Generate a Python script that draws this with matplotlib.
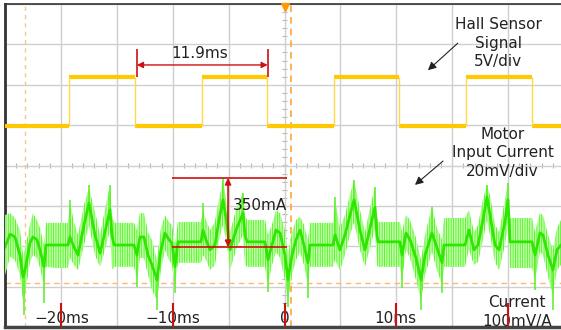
import numpy as np
import matplotlib
matplotlib.use("Agg")
import matplotlib.pyplot as plt

plt.rcParams['font.family'] = ['DejaVu Sans']
plt.rcParams['hatch.linewidth'] = 0.6

# screen units: x in ms (5 ms/div), y in divisions (-4..4)
# Hall sensor signal: edge times (ms) and levels (div)
hall_edges = [-19.28, -13.37, -7.38, -1.57, 4.43, 10.24, 16.23, 22.14]
hall_low = 0.98
hall_high = 2.19

# Motor input current trace (div)
cur_t = [-25.0, -24.55, -24.11, -23.66, -23.39, -23.21, -22.77, -22.50, -22.14, -21.87,
         -21.51, -21.33, -20.44, -19.37, -19.19, -18.83, -18.47, -17.93, -17.49, -16.95,
         -16.50, -16.06, -15.61, -15.43, -15.25, -14.36, -13.46, -13.20, -12.93, -12.57,
         -12.21, -11.86, -11.41, -11.05, -10.69, -10.33, -10.06, -9.80, -9.53, -8.45,
         -7.47, -7.29, -7.02, -6.66, -6.22, -5.86, -5.50, -5.14, -4.87, -4.34,
         -3.71, -3.53, -3.35, -2.55, -1.74, -1.48, -1.12, -0.76, -0.40, 0.04,
         0.31, 0.67, 1.03, 1.39, 1.74, 2.10, 2.28, 3.35, 4.34, 4.52,
         4.96, 5.41, 5.86, 6.22, 6.75, 7.20, 7.65, 8.09, 8.27, 8.36,
         9.35, 10.33, 10.51, 10.87, 11.23, 11.76, 12.21, 12.57, 13.19, 13.64,
         14.09, 14.27, 15.16, 16.15, 16.50, 16.95, 17.31, 17.75, 18.11, 18.38,
         18.83, 19.19, 19.72, 19.99, 20.17, 21.15, 22.14, 22.41, 22.85, 23.12,
         23.57, 24.01, 24.37, 24.73, 25.0]
cur_mid = [-2.02, -1.70, -1.77, -2.22, -2.76, -2.59, -1.92, -1.77, -1.84, -2.09,
           -2.51, -1.97, -1.97, -1.97, -1.77, -2.02, -2.22, -1.47, -0.93, -1.72,
           -2.17, -1.65, -1.10, -1.72, -1.97, -1.97, -1.97, -2.22, -1.77, -1.77,
           -2.22, -2.46, -2.83, -2.09, -1.67, -1.84, -1.92, -2.51, -1.89, -1.89,
           -1.89, -1.60, -1.84, -2.09, -1.97, -1.35, -0.85, -1.47, -2.09, -1.60,
           -1.18, -1.72, -1.89, -1.89, -1.89, -2.34, -1.97, -1.60, -1.67, -2.22,
           -2.83, -2.22, -1.84, -1.60, -1.97, -2.41, -1.97, -1.97, -1.97, -1.72,
           -2.09, -1.72, -1.23, -0.85, -1.60, -2.09, -1.55, -1.03, -1.72, -1.89,
           -1.89, -1.89, -2.22, -1.67, -1.84, -2.29, -2.83, -2.22, -1.67, -2.04,
           -2.41, -1.97, -1.97, -1.97, -1.60, -2.09, -1.97, -1.35, -0.78, -1.22,
           -1.97, -2.09, -1.40, -0.85, -1.89, -1.89, -1.89, -2.22, -1.67, -1.72,
           -2.22, -2.59, -2.09, -1.97, -1.97]
cur_hi = [-1.23, -1.18, -1.30, -1.60, -2.22, -2.09, -1.47, -1.18, -1.35, -1.55,
          -1.97, -1.42, -1.42, -1.42, -0.93, -1.40, -1.72, -0.98, -0.56, -1.15,
          -1.72, -1.10, -0.48, -1.23, -1.42, -1.42, -1.42, -1.60, -1.18, -1.18,
          -1.65, -1.84, -2.34, -1.55, -1.23, -1.40, -1.47, -1.97, -1.40, -1.40,
          -1.40, -1.10, -1.35, -1.60, -1.40, -0.85, -0.36, -0.98, -1.65, -1.10,
          -0.68, -1.23, -1.35, -1.35, -1.35, -1.72, -1.47, -1.10, -1.18, -1.60,
          -2.22, -1.65, -1.35, -1.27, -1.47, -1.84, -1.42, -1.42, -1.42, -0.85,
          -1.55, -1.23, -0.73, -0.36, -1.10, -1.65, -1.05, -0.53, -1.23, -1.40,
          -1.40, -1.40, -1.65, -1.23, -1.35, -1.80, -2.34, -1.72, -1.03, -1.55,
          -1.84, -1.30, -1.30, -1.30, -1.10, -1.65, -1.47, -0.85, -0.48, -0.73,
          -1.47, -1.65, -0.85, -0.43, -1.30, -1.30, -1.30, -1.65, -1.18, -1.23,
          -1.72, -2.09, -1.55, -1.35, -1.35]
cur_lo = [-2.71, -2.26, -2.34, -2.71, -3.34, -3.20, -2.39, -2.22, -2.29, -2.54,
          -2.96, -2.51, -2.54, -2.54, -2.29, -2.46, -2.59, -1.97, -1.47, -2.22,
          -2.51, -2.09, -1.60, -2.59, -2.51, -2.51, -2.51, -2.83, -2.29, -2.29,
          -2.71, -3.08, -3.34, -2.59, -2.09, -2.34, -2.46, -2.96, -2.41, -2.41,
          -2.41, -2.22, -2.34, -2.59, -2.46, -1.84, -1.47, -1.97, -2.59, -2.09,
          -1.72, -2.46, -2.51, -2.51, -2.51, -2.96, -2.46, -2.14, -2.29, -2.83,
          -3.34, -2.71, -2.34, -2.14, -2.46, -2.96, -2.51, -2.51, -2.51, -2.34,
          -2.59, -2.22, -1.72, -1.40, -2.09, -2.51, -2.04, -1.55, -2.46, -2.51,
          -2.51, -2.51, -2.83, -2.09, -2.29, -2.83, -3.34, -2.71, -2.14, -2.59,
          -2.96, -2.51, -2.51, -2.51, -2.09, -2.46, -2.39, -1.84, -1.35, -1.72,
          -2.39, -2.59, -1.97, -1.47, -2.54, -2.54, -2.54, -2.83, -2.14, -2.22,
          -2.76, -3.20, -2.59, -2.46, -2.46]

# isolated needle spikes (time ms, tip div)
spike_t = [-23.30, -21.51, -13.20, -11.41, -9.80, -1.48, 0.31, 2.10, 10.51, 12.21,
           14.09, 22.41, 24.01, -19.19, -17.49, -15.61, -7.29, -5.50, -3.71, 4.52,
           6.22, 8.09, 13.19, 18.11, 19.99]
spike_tip = [-3.70, -3.40, -3.01, -3.58, -3.16, -3.13, -3.50, -3.28, -3.03, -3.58,
             -3.16, -3.08, -3.58, -0.85, -0.48, -0.48, -0.93, -0.31, -0.68, -0.78,
             -0.36, -0.53, -1.03, -0.48, -0.43]

time_labels = ['\u221220ms', '\u221210ms', '0', '10ms']
time_label_pos = [-19.9, -9.96, 0.0, 9.9]
marker_ticks = [-20, -10, 0, 10, 20]

red = '#cc1111'

fig = plt.figure(figsize=(5.61, 3.30), dpi=100)
ax = fig.add_axes([5 / 561, 3 / 330, 559 / 561, 323 / 330])
ax.set_xlim(-25, 25)
ax.set_ylim(-4, 4)
ax.set_xticks(np.arange(-25, 26, 5))
ax.set_yticks(np.arange(-4, 5, 1))
ax.grid(color='#cfcfcf', lw=1)
ax.tick_params(length=0, labelbottom=False, labelleft=False)
ax.spines['right'].set_visible(False)
ax.spines['left'].set_color('#333333')
ax.spines['left'].set_linewidth(2)
ax.spines['top'].set_color('#333333')
ax.spines['top'].set_linewidth(1.2)
ax.spines['bottom'].set_color('#444444')
ax.spines['bottom'].set_linewidth(2.5)

# minor ticks along the centre lines
mt = np.arange(-25, 25.01, 1)
ax.vlines(mt, -0.06, 0.06, color='#b5b5b5', lw=0.8, zorder=1)
my = np.arange(-4, 4.01, 0.2)
ax.hlines(my, -0.2, 0.2, color='#b5b5b5', lw=0.8, zorder=1)

# cursors
ax.axvline(-23.2, color='#ffc285', ls=(0, (3, 3)), lw=1, zorder=2)
ax.axvline(0.58, color='#ffa53c', ls=(0, (4, 3)), lw=1.2, zorder=2)
ax.axhline(-2.91, color='#ffb870', ls=(0, (4, 3)), lw=1, zorder=2)
ax.plot(0, 3.93, marker='v', color='#ff9900', ms=6, clip_on=False, zorder=6)

# hall sensor trace
edges = [-25] + hall_edges + [25]
for i in range(len(edges) - 1):
    lvl = hall_low if i % 2 == 0 else hall_high
    ax.hlines(lvl, edges[i], edges[i + 1], color='#ffc800', lw=3.0, zorder=3)
ax.vlines(hall_edges, hall_low, hall_high, color='#ffd84a', lw=1, zorder=3)

# motor current trace
ax.fill_between(cur_t, cur_lo, cur_hi, facecolor='#c4ffae', edgecolor='#4cf21c',
                hatch='|||||||', lw=0, zorder=3)
base = np.interp(spike_t, cur_t, cur_mid)
ax.vlines(spike_t, base, spike_tip, color='#55f020', lw=1.1, zorder=3)
ax.plot(cur_t, cur_mid, color='#2ee600', lw=2.0, zorder=4)

# 11.9 ms period marker
x1, x2 = hall_edges[1] + 0.17, hall_edges[3] + 0.07
ax.vlines([x1, x2], hall_high, 2.88, color=red, lw=1.2, zorder=5)
ax.annotate('', xy=(x1, 2.49), xytext=(x2, 2.49),
            arrowprops=dict(arrowstyle='<|-|>', color=red, lw=1, mutation_scale=9,
                            shrinkA=0, shrinkB=0), zorder=5)
ax.text(-7.56, 2.78, '11.9ms', ha='center', va='center', fontsize=11, color='#222222')

# 350 mA marker
ax.hlines([-0.31, -2.02], -10.06, 0.22, color=red, lw=1.2, zorder=5)
ax.annotate('', xy=(-5.05, -0.31), xytext=(-5.05, -2.02),
            arrowprops=dict(arrowstyle='<|-|>', color=red, lw=1.2, mutation_scale=9,
                            shrinkA=0, shrinkB=0), zorder=5)
ax.text(-4.6, -1.0, '350mA', ha='left', va='center', fontsize=11, color='#222222', zorder=6)

# channel descriptions
ax.text(19.1, 3.03, 'Hall Sensor\nSignal\n5V/div', ha='center', va='center',
        fontsize=11, linespacing=1.28, color='#222222')
ax.annotate('', xy=(12.83, 2.36), xytext=(15.5, 3.03),
            arrowprops=dict(arrowstyle='-|>', color='#222222', lw=0.8, mutation_scale=12,
                            shrinkA=0, shrinkB=0))
ax.text(19.5, 0.31, 'Motor\nInput Current\n20mV/div', ha='center', va='center',
        fontsize=11, linespacing=1.28, color='#222222')
ax.annotate('', xy=(11.67, -0.48), xytext=(14.18, 0.11),
            arrowprops=dict(arrowstyle='-|>', color='#222222', lw=0.8, mutation_scale=12,
                            shrinkA=0, shrinkB=0))
ax.text(20.8, -3.63, 'Current\n100mV/A', ha='center', va='center',
        fontsize=11, linespacing=1.28, color='#222222', zorder=6)

# time labels and red markers
for lab, pos in zip(time_labels, time_label_pos):
    ax.text(pos, -3.78, lab, ha='center', va='center', fontsize=11, color='#222222', zorder=6)
ax.vlines(marker_ticks, -4, -3.4, color=red, lw=1.5, zorder=7)

fig.savefig('out.png', dpi=100)
